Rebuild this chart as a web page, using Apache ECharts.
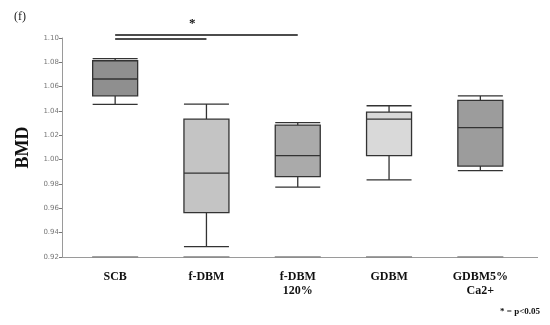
<!DOCTYPE html>
<html><head><meta charset="utf-8">
<script src="https://cdn.jsdelivr.net/npm/echarts@6/dist/echarts.min.js"></script>
<style>html,body{margin:0;padding:0;background:#fff}#c{width:550px;height:325px}</style>
</head><body><div id="c"></div>
<script>
const categories = ['SCB', 'f-DBM', 'f-DBM\n120%', 'GDBM', 'GDBM5%\nCa2+'];
// [lower whisker, Q1, median, Q3, upper whisker]
const boxValues = [
  [1.0454, 1.0525, 1.0663, 1.0813, 1.0830],
  [0.9285, 0.9565, 0.9889, 1.0333, 1.0457],
  [0.9774, 0.9861, 1.0034, 1.0284, 1.0305],
  [0.9834, 1.0034, 1.0333, 1.0391, 1.0443],
  [0.9910, 0.9947, 1.0264, 1.0487, 1.0525]
];
const boxColors = ['#8f8f8f', '#c4c4c4', '#aaaaaa', '#d9d9d9', '#9c9c9c'];
const baselineValues = [0.92, 0.92, 0.92, 0.92, 0.92];
const yTicks = { min: 0.92, max: 1.10, interval: 0.02 };
// significance brackets: [from category index, to category index, y value]
const sigBrackets = [[0, 2, 1.1030], [0, 1, 1.0994]];

const chart = echarts.init(document.getElementById('c'), null, { renderer: 'canvas' });
const serif = '"Liberation Serif", "DejaVu Serif", serif';
chart.setOption({
  animation: false,
  backgroundColor: '#fff',
  grid: { left: 69.5, right: 24, top: 38, bottom: 68, containLabel: false, outerBoundsMode: 'none' },
  xAxis: {
    type: 'category',
    data: categories,
    boundaryGap: true,
    axisLine: { show: true, lineStyle: { color: '#9a9a9a', width: 1 } },
    axisTick: { show: false },
    axisLabel: { color: '#111', fontFamily: serif, fontWeight: 'bold', fontSize: 12, margin: 13, lineHeight: 14 }
  },
  yAxis: {
    type: 'value',
    min: yTicks.min, max: yTicks.max, interval: yTicks.interval,
    offset: 7.5,
    name: 'BMD',
    nameLocation: 'middle',
    nameGap: 30,
    nameRotate: 90,
    nameTextStyle: { fontFamily: serif, fontWeight: 'bold', fontSize: 18, color: '#111' },
    axisLine: { show: true, lineStyle: { color: '#9a9a9a', width: 1 } },
    axisTick: { show: true, length: 3, lineStyle: { color: '#777' } },
    splitLine: { show: false },
    axisLabel: { color: '#777', fontSize: 7, fontFamily: '"DejaVu Sans", sans-serif', margin: 3,
      formatter: v => v.toFixed(2) }
  },
  graphic: [
    { type: 'text', left: 14, top: 11, style: { text: '(f)', font: '12px ' + serif, fill: '#222' } },
    { type: 'text', left: 500, top: 307, style: { text: '* = p<0.05', font: 'bold 9px ' + serif, fill: '#111' } },
    { type: 'text', left: 189, top: 17, style: { text: '*', font: 'bold 13px ' + serif, fill: '#111' } },
    { type: 'line', shape: { x1: 62, y1: 257.5, x2: 538, y2: 257.5 }, style: { stroke: '#9a9a9a', lineWidth: 1 }, z: 1 }
  ],
  series: [
    {
      type: 'boxplot',
      boxWidth: [45, 45],
      data: boxValues.map((v, i) => ({ value: v, itemStyle: { color: boxColors[i], borderColor: '#333', borderWidth: 1.3 } })),
      z: 3
    },
    {
      type: 'scatter',
      data: baselineValues,
      symbol: 'rect',
      symbolSize: [46, 2],
      itemStyle: { color: '#8a8a8a' },
      silent: true,
      z: 4
    },
    {
      type: 'lines',
      coordinateSystem: 'cartesian2d',
      silent: true,
      clip: false,
      polyline: false,
      lineStyle: { color: '#111', width: 1.6, opacity: 1 },
      data: sigBrackets.map(b => ({ coords: [[b[0], b[2]], [b[1], b[2]]] })),
      z: 5
    }
  ]
});
</script></body></html>
